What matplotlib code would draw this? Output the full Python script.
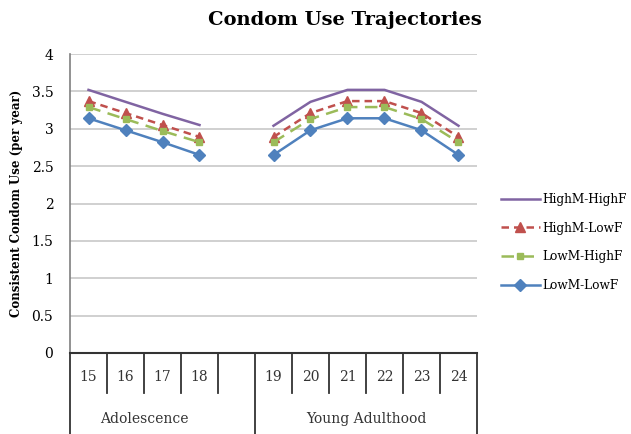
import numpy as np
import matplotlib.pyplot as plt
from matplotlib.transforms import blended_transform_factory

plt.rcParams['font.family'] = ['DejaVu Serif']

ages = ["15", "16", "17", "18", "", "19", "20", "21", "22", "23", "24"]
groups = ["Adolescence", "Young Adulthood"]
nan = np.nan
high_high = [3.52, 3.36, 3.20, 3.05, nan, 3.04, 3.36, 3.52, 3.52, 3.36, 3.04]
high_low = [3.37, 3.21, 3.05, 2.89, nan, 2.89, 3.21, 3.37, 3.37, 3.21, 2.89]
low_high = [3.29, 3.13, 2.97, 2.82, nan, 2.82, 3.13, 3.29, 3.29, 3.13, 2.82]
low_low = [3.14, 2.98, 2.82, 2.65, nan, 2.65, 2.98, 3.14, 3.14, 2.98, 2.65]

fig = plt.figure(figsize=(6.31, 4.34), dpi=100)
ax = fig.add_axes([70/631, 1-353/434, 407/631, 299/434])

x = np.arange(len(ages))
ax.plot(x, high_high, color='#8064A2', lw=1.8, label='HighM-HighF')
ax.plot(x, high_low, color='#C0504D', lw=1.8, ls=(0, (3, 2)), marker='^', ms=7, label='HighM-LowF')
ax.plot(x, low_high, color='#9BBB59', lw=1.8, ls=(0, (5, 3)), marker='s', ms=4, label='LowM-HighF')
ax.plot(x, low_low, color='#4F81BD', lw=1.8, marker='D', ms=6, label='LowM-LowF')

ax.set_xlim(-0.5, len(ages) - 0.5)
ax.set_ylim(0, 4)
ax.set_yticks(np.arange(0, 4.01, 0.5))
ax.set_yticklabels(['0', '0.5', '1', '1.5', '2', '2.5', '3', '3.5', '4'], fontsize=10)
ax.tick_params(axis='y', length=0, pad=12)
ax.set_xticks([])
ax.yaxis.grid(True, color='#c8c8c8', lw=1.2)
ax.set_axisbelow(True)
for s in ['top', 'right']:
    ax.spines[s].set_visible(False)
ax.spines['left'].set_color('#7f7f7f')
ax.spines['left'].set_linewidth(1.2)
ax.spines['bottom'].set_color('#333333')
ax.spines['bottom'].set_linewidth(1.5)

# two-level category axis
tr = blended_transform_factory(ax.transData, ax.transAxes)
for k in range(len(ages) + 1):
    xb = k - 0.5
    low = -0.28 if k in (0, 5, len(ages)) else -0.134
    ax.plot([xb, xb], [0, low], color='#333333', lw=1.3, transform=tr, clip_on=False)
for i, a in enumerate(ages):
    ax.text(i, -0.08, a, transform=tr, ha='center', va='center', fontsize=10, color='#333333')
ax.text(1.5, -0.22, groups[0], transform=tr, ha='center', va='center', fontsize=10, color='#333333')
ax.text(7.5, -0.22, groups[1], transform=tr, ha='center', va='center', fontsize=10, color='#333333')

ax.set_ylabel('Consistent Condom Use (per year)', fontsize=8.5, fontweight='bold', labelpad=6)
fig.text(345/631, 1-20/434, 'Condom Use Trajectories', ha='center', va='center',
         fontsize=14, fontweight='bold')

fig.legend(loc='upper left', bbox_to_anchor=(490/631, 1-182/434), frameon=False,
           fontsize=8.7, handlelength=3.2, labelspacing=1.3, handletextpad=0.25)

fig.savefig('out.png', dpi=100)
